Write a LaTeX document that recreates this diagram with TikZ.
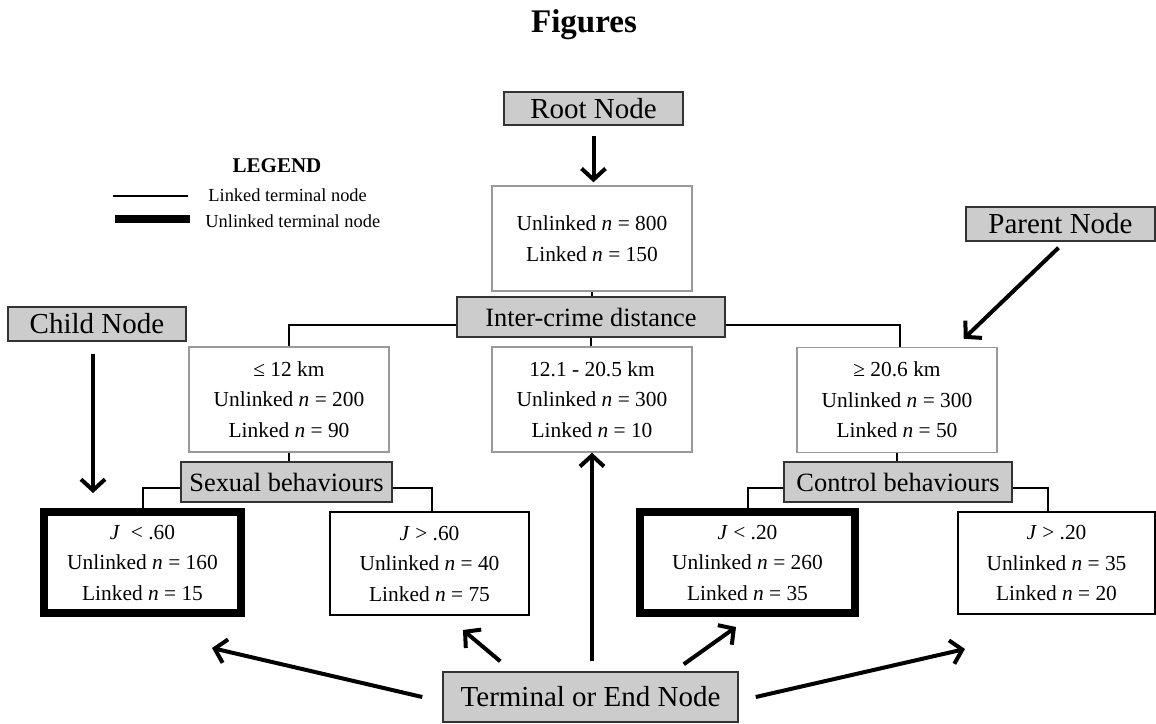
\documentclass[tikz,border=0pt]{standalone}
\usepackage{fontspec}
\setmainfont{Liberation Serif}
\usetikzlibrary{arrows.meta}
\newcommand{\nn}{\textit{n}}

\begin{document}
\begin{tikzpicture}[x=0.5pt, y=-0.5pt,
    labelbox/.style={draw=black!80, fill=black!20, line width=0.75pt, inner sep=0pt, font=\fontsize{14.5}{17}\selectfont},
    splitbox/.style={draw=black!80, fill=black!20, line width=0.75pt, inner sep=0pt, font=\fontsize{13.2}{16}\selectfont},
    databox/.style={draw=black!40, fill=white, line width=0.75pt, inner sep=0pt, align=center, font=\fontsize{10.7}{15.25}\selectfont, minimum width=100pt, minimum height=52.5pt},
    endbox/.style={draw=black, line width=1pt, inner sep=0pt, align=center, font=\fontsize{10.7}{15.25}\selectfont},
    unlinked/.style={endbox, line width=4pt},
    legendtxt/.style={anchor=base west, inner sep=0pt, font=\fontsize{9.2}{11}\selectfont},
    conn/.style={line width=1pt},
    pointer/.style={line width=2pt, -{Straight Barb[length=5.5pt, width=12pt]}}
]
    \useasboundingbox (0,0) rectangle (1156,723);
    \node[font=\bfseries\fontsize{16.5}{20}\selectfont, anchor=base] (title) at (584,32) {Figures};

    %Legend
    \node[font=\bfseries\fontsize{10.5}{12}\selectfont, anchor=base, inner sep=0pt] (legend) at (277,172) {LEGEND};
    \draw[line width=1pt] (113,196) -- (188,196);
    \node[legendtxt] (linkedtxt) at (208,201) {Linked terminal node};
    \draw[line width=4pt] (115,219) -- (190,219);
    \node[legendtxt] (unlinkedtxt) at (205,227) {Unlinked terminal node};

    %Tree
    \node[labelbox, minimum width=89.5pt, minimum height=16.5pt] (rootlbl) at (593.5,108.5) {Root Node};
    \node[databox] (rootdata) at (592,238.5) {Unlinked \nn{} = 800\\Linked \nn{} = 150};
    \node[splitbox, minimum width=134pt, minimum height=20pt] (distance) at (591,317) {Inter-crime distance};
    \node[databox] (neardata) at (289,399.5) {≤ 12 km\\Unlinked \nn{} = 200\\Linked \nn{} = 90};
    \node[databox] (middata) at (592,399.5) {12.1 - 20.5 km\\Unlinked \nn{} = 300\\Linked \nn{} = 10};
    \node[databox] (fardata) at (897,400) {≥ 20.6 km\\Unlinked \nn{} = 300\\Linked \nn{} = 50};
    \node[splitbox, minimum width=105.5pt, minimum height=20pt] (sexual) at (286.5,482) {Sexual behaviours};
    \node[splitbox, minimum width=114pt, minimum height=20pt] (control) at (898,482) {Control behaviours};
    \node[unlinked, minimum width=98.5pt, minimum height=50.5pt] (sexlow) at (142.5,562.5) {\textit{J}\ \ < .60\\Unlinked \nn{} = 160\\Linked \nn{} = 15};
    \node[endbox, minimum width=99.5pt, minimum height=51.5pt] (sexhigh) at (429.5,563.5) {\textit{J} > .60\\Unlinked \nn{} = 40\\Linked \nn{} = 75};
    \node[unlinked, minimum width=107.5pt, minimum height=50.5pt] (ctrllow) at (747.5,562.5) {\textit{J} < .20\\Unlinked \nn{} = 260\\Linked \nn{} = 35};
    \node[endbox, minimum width=98.5pt, minimum height=51pt] (ctrlhigh) at (1056.5,563) {\textit{J} > .20\\Unlinked \nn{} = 35\\Linked \nn{} = 20};

    %Callouts
    \node[labelbox, minimum width=89pt, minimum height=17pt] (childlbl) at (97,324) {Child Node};
    \node[labelbox, minimum width=94.5pt, minimum height=17pt] (parentlbl) at (1060.5,224) {Parent Node};
    \node[labelbox, minimum width=147.5pt, minimum height=25pt] (endlbl) at (590.5,697) {Terminal or End Node};

    %Branches
    \draw[conn] (rootdata.south) -- (rootdata.south |- distance.north);
    \draw[conn] (distance.south) -- (distance.south |- middata.north);
    \draw[conn] ([yshift=-4pt]distance.west) -| (neardata.north);
    \draw[conn] ([yshift=-4pt]distance.east) -| ([xshift=1.5pt]fardata.north);
    \draw[conn] (neardata.south) -- (neardata.south |- sexual.north);
    \draw[conn] (fardata.south) -- (fardata.south |- control.north);
    \draw[conn] ([yshift=-3pt]sexual.west) -| (sexlow.north);
    \draw[conn] ([yshift=-3pt]sexual.east) -| ([xshift=1.25pt]sexhigh.north);
    \draw[conn] ([yshift=-3pt]control.west) -| (ctrllow.north);
    \draw[conn] ([yshift=-3pt]control.east) -| ([xshift=-4.25pt]ctrlhigh.north);

    %Pointers
    \draw[pointer] ([yshift=-5pt]rootlbl.south) -- ([yshift=1.5pt]rootlbl.south |- rootdata.north);
    \draw[pointer] ([xshift=-2pt,yshift=-6pt]childlbl.south) -- ([xshift=-2pt,yshift=7.5pt]childlbl.south |- sexlow.north);
    \draw[pointer] ([xshift=-1pt,yshift=-3pt]parentlbl.south) -- ([xshift=-17pt,yshift=4pt]fardata.north east);
    \draw[pointer] ([xshift=-10pt]endlbl.west) -- ([xshift=-16.5pt,yshift=-15.5pt]sexlow.south east);
    \draw[pointer] ([xshift=29pt,yshift=5pt]endlbl.north west) -- ([xshift=16.75pt,yshift=-7pt]sexhigh.south);
    \draw[pointer] ([yshift=5pt]middata.south |- endlbl.north) -- (middata.south);
    \draw[pointer] ([xshift=-27.5pt,yshift=3.5pt]endlbl.north east) -- ([xshift=-5.75pt,yshift=-5pt]ctrllow.south);
    \draw[pointer] ([xshift=8.5pt]endlbl.east) -- ([xshift=4pt,yshift=-17pt]ctrlhigh.south west);
\end{tikzpicture}
\end{document}
